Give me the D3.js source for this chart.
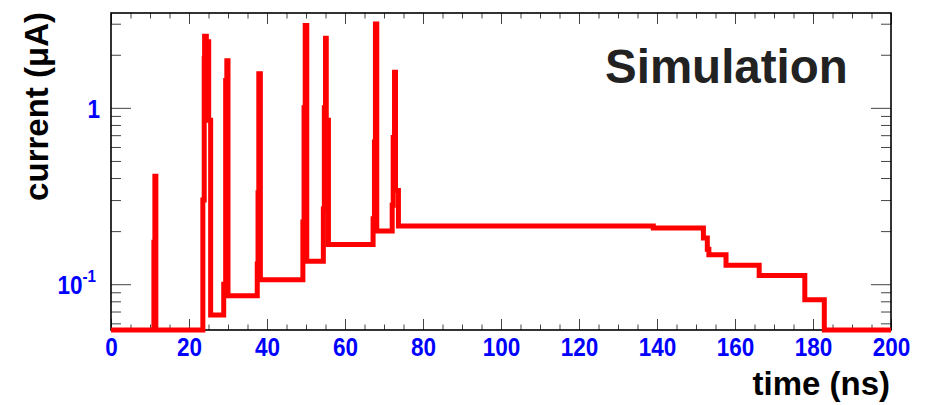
<!DOCTYPE html>
<html>
<head>
<meta charset="utf-8">
<script src="https://cdn.jsdelivr.net/npm/d3@7/dist/d3.min.js"></script>
<style>
    body { margin: 0; background: #fff; }
    svg { display: block; font-family: "Liberation Sans", Arial, Helvetica, sans-serif; }
</style>
</head>
<body>
<svg id="chart" width="926" height="405"></svg>
<script>
// step edges (ns) and the current (uA) held from that edge to the next one
const stepTimes = [
    0, 11.0, 11.25, 11.5,
    23.55, 23.9, 24.0, 24.45, 25.05, 25.55,
    28.9, 29.4, 29.7, 30.0,
    37.5, 37.7, 37.9, 38.3,
    49.2, 49.5, 49.8, 50.2,
    54.45, 54.7, 55.0, 55.2, 55.75,
    67.2, 67.55, 67.8, 68.15,
    72.1, 72.36, 72.7, 72.95, 73.7,
    139.05, 151.9, 152.9, 153.3, 157.7, 166.2, 177.9, 182.9, 200
];
const stepCurrents = [
    0, 0.173, 0.41, 0,
    0.30, 1.9, 2.55, 2.37, 0.85, 0.067,
    0.10, 1.43, 1.85, 0.086,
    0.13, 0.33, 1.56, 0.106,
    0.225, 1.0, 2.93, 0.135,
    0.267, 1.0, 2.48, 0.85, 0.168,
    0.235, 0.64, 2.99, 0.20,
    0.28, 0.68, 1.59, 0.34, 0.214,
    0.208, 0.183, 0.158, 0.147, 0.128, 0.112, 0.0816, 0, 0
];

const xMajorTicks = [0, 20, 40, 60, 80, 100, 120, 140, 160, 180, 200];
const xMinorTicks = d3.range(0, 201, 5).filter(t => t % 20 !== 0);
const yMajorTicks = [0.1, 1];
const yMinorTicks = [0.06, 0.07, 0.08, 0.09, 0.2, 0.3, 0.4, 0.5, 0.6, 0.7, 0.8, 0.9, 2, 3];
const yTickLabels = [["10", "-1"], ["1", ""]];

const xDomain = [0, 200];
const yDomain = [0.055, 3.45];

document.addEventListener("DOMContentLoaded", () => {
    const svg = d3.select("#chart");
    const frame = { left: 111, right: 891, top: 13, bottom: 330 };

    const x = d3.scaleLinear().domain(xDomain).range([frame.left, frame.right]);
    const y = d3.scaleLog().domain(yDomain).range([frame.bottom, frame.top]);

    const points = stepTimes.map((t, i) => ({ t: t, v: Math.max(stepCurrents[i], yDomain[0]) }));

    // ticks on all four sides, pointing into the frame
    function tickAxis(axis, transform) {
        const g = svg.append("g").attr("transform", transform).call(axis);
        g.select(".domain").remove();
        g.selectAll("line").attr("stroke", "#444").attr("stroke-width", 1);
        g.selectAll("text").remove();
    }
    tickAxis(d3.axisRight(y).tickValues(yMajorTicks).tickSize(20), `translate(${frame.left},0)`);
    tickAxis(d3.axisRight(y).tickValues(yMinorTicks).tickSize(10), `translate(${frame.left},0)`);
    tickAxis(d3.axisLeft(y).tickValues(yMajorTicks).tickSize(20), `translate(${frame.right},0)`);
    tickAxis(d3.axisLeft(y).tickValues(yMinorTicks).tickSize(10), `translate(${frame.right},0)`);
    tickAxis(d3.axisTop(x).tickValues(xMajorTicks).tickSize(11), `translate(0,${frame.bottom})`);
    tickAxis(d3.axisTop(x).tickValues(xMinorTicks).tickSize(5.5), `translate(0,${frame.bottom})`);
    tickAxis(d3.axisBottom(x).tickValues(xMajorTicks).tickSize(11), `translate(0,${frame.top})`);
    tickAxis(d3.axisBottom(x).tickValues(xMinorTicks).tickSize(5.5), `translate(0,${frame.top})`);

    svg.append("rect")
        .attr("x", frame.left)
        .attr("y", frame.top)
        .attr("width", frame.right - frame.left)
        .attr("height", frame.bottom - frame.top)
        .attr("fill", "none")
        .attr("stroke", "#000")
        .attr("stroke-width", 1.6);

    const line = d3.line()
        .x(d => x(d.t))
        .y(d => y(d.v))
        .curve(d3.curveStepAfter);

    svg.append("path")
        .datum(points)
        .attr("fill", "none")
        .attr("stroke", "#ff0000")
        .attr("stroke-width", 5)
        .attr("stroke-linejoin", "miter")
        .attr("d", line);

    // x tick labels, a little narrow like the original Helvetica
    const xLabels = svg.append("g")
        .attr("transform", `translate(0,${frame.bottom})`)
        .call(d3.axisBottom(x).tickValues(xMajorTicks).tickSize(0).tickPadding(26).tickFormat(d3.format("d")));
    xLabels.select(".domain").remove();
    xLabels.selectAll("text")
        .attr("fill", "#0000ff")
        .attr("font-size", 25)
        .attr("font-weight", "bold")
        .attr("font-family", "Liberation Sans, Arial, sans-serif")
        .attr("transform", "scale(0.9,1)")
        .attr("dy", 0);

    // y tick labels
    yMajorTicks.forEach((v, i) => {
        const g = svg.append("g")
            .attr("transform", `translate(${yTickLabels[i][1] ? frame.left - 15 : frame.left - 11},${y(v) + 10}) scale(0.9,1)`);
        const label = g.append("text")
            .attr("text-anchor", "end")
            .attr("fill", "#0000ff")
            .attr("font-size", 25)
            .attr("font-weight", "bold")
            .text(yTickLabels[i][0]);
        if (yTickLabels[i][1]) {
            label.append("tspan")
                .attr("dy", -12)
                .attr("font-size", 17)
                .text(yTickLabels[i][1]);
        }
    });

    svg.append("text")
        .attr("x", 890)
        .attr("y", 395)
        .attr("text-anchor", "end")
        .attr("font-size", 33)
        .attr("font-weight", "bold")
        .attr("fill", "#000")
        .text("time (ns)");

    svg.append("text")
        .attr("transform", `translate(48,${frame.top - 1}) rotate(-90)`)
        .attr("text-anchor", "end")
        .attr("font-size", 33)
        .attr("font-weight", "bold")
        .attr("fill", "#000")
        .text("current (\u03bcA)");

    svg.append("text")
        .attr("x", 605)
        .attr("y", 83)
        .attr("font-size", 47.5)
        .attr("font-weight", "bold")
        .attr("fill", "#222")
        .text("Simulation");
});
</script>
</body>
</html>
